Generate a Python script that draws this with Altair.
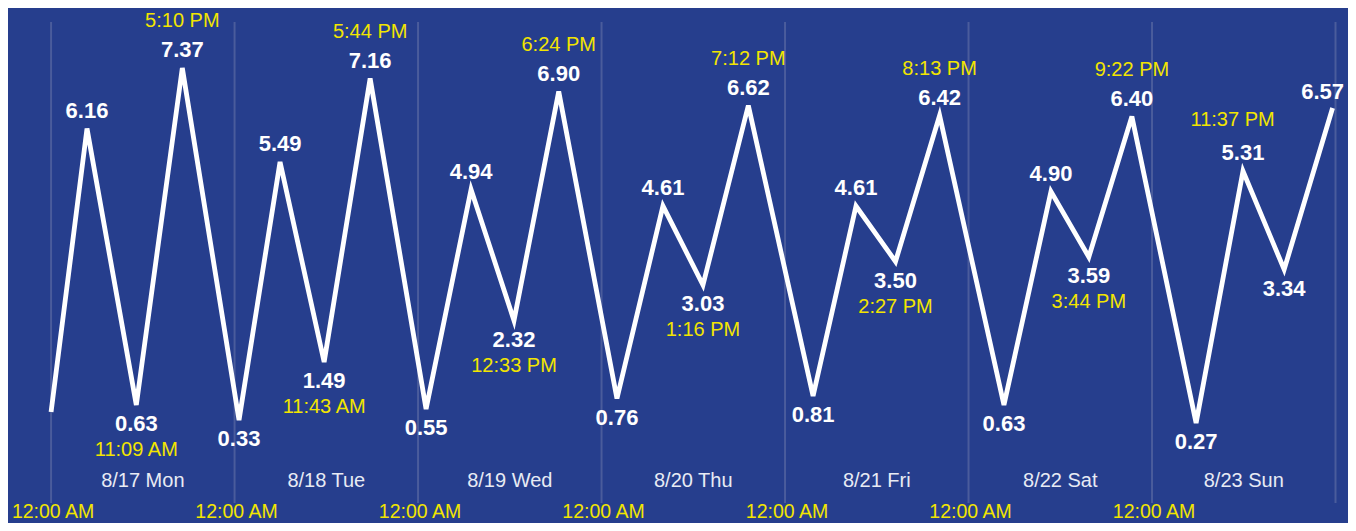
import altair as alt
import pandas as pd

# ---- data ----
times = ["2020-08-17T00:00", "2020-08-17T04:42", "2020-08-17T11:09", "2020-08-17T17:10",
         "2020-08-18T00:35", "2020-08-18T05:57", "2020-08-18T11:43", "2020-08-18T17:44",
         "2020-08-19T01:03", "2020-08-19T06:56", "2020-08-19T12:33", "2020-08-19T18:24",
         "2020-08-20T02:01", "2020-08-20T08:02", "2020-08-20T13:16", "2020-08-20T19:12",
         "2020-08-21T03:40", "2020-08-21T09:17", "2020-08-21T14:27", "2020-08-21T20:13",
         "2020-08-22T04:38", "2020-08-22T10:47", "2020-08-22T15:44", "2020-08-22T21:22",
         "2020-08-23T05:46", "2020-08-23T11:54", "2020-08-23T17:17", "2020-08-23T23:37"]
heights = [0.49, 6.16, 0.63, 7.37, 0.33, 5.49, 1.49, 7.16, 0.55, 4.94, 2.32, 6.90,
           0.76, 4.61, 3.03, 6.62, 0.81, 4.61, 3.50, 6.42, 0.63, 4.90, 3.59, 6.40,
           0.27, 5.31, 3.34, 6.57]
kinds = ["", "H", "L", "H", "L", "H", "L", "H", "L", "H", "L", "H", "L", "H",
         "L", "H", "L", "H", "L", "H", "L", "H", "L", "H", "L", "H", "L", "H"]
time_labels = ["", "", "11:09 AM", "5:10 PM", "", "", "11:43 AM", "5:44 PM",
               "", "", "12:33 PM", "6:24 PM", "", "", "1:16 PM", "7:12 PM",
               "", "", "2:27 PM", "8:13 PM", "", "", "3:44 PM", "9:22 PM",
               "", "", "", "11:37 PM"]

day_names = ["8/17 Mon", "8/18 Tue", "8/19 Wed", "8/20 Thu", "8/21 Fri", "8/22 Sat", "8/23 Sun"]
day_noons = ["2020-08-17T12:00", "2020-08-18T12:00", "2020-08-19T12:00", "2020-08-20T12:00",
             "2020-08-21T12:00", "2020-08-22T12:00", "2020-08-23T12:00"]
midnights = ["2020-08-17T00:00", "2020-08-18T00:00", "2020-08-19T00:00", "2020-08-20T00:00",
             "2020-08-21T00:00", "2020-08-22T00:00", "2020-08-23T00:00", "2020-08-24T00:00"]
midnight_labels = ["12:00 AM"] * 7 + [""]

BG = "#263e8d"
YELLOW = "#f2e500"
FONT = "Liberation Sans"

df = pd.DataFrame({
    "t": [s + ":00Z" for s in times],
    "h": heights,
    "kind": kinds,
    "tl": time_labels,
})
df["i"] = list(range(len(df)))
df["vl"] = [f"{v:.2f}" if k else "" for v, k in zip(heights, kinds)]
last = len(df) - 1

days_df = pd.DataFrame({"t": [s + ":00Z" for s in day_noons], "name": day_names})
mid_df = pd.DataFrame({"t": [s + ":00Z" for s in midnights], "lab": midnight_labels})

xscale = alt.Scale(type="utc", domain=[
    alt.DateTime(year=2020, month=8, date=16, hours=18, minutes=22, utc=True),
    alt.DateTime(year=2020, month=8, date=24, hours=1, minutes=38, utc=True)])
yscale = alt.Scale(domain=[-1.73, 8.57], nice=False, zero=False)

X = alt.X("t:T", scale=xscale, axis=None)
Y = alt.Y("h:Q", scale=yscale, axis=None)

grid = alt.Chart(mid_df).mark_rule(color="#4a5c9c", strokeWidth=2).encode(
    x=X, y=alt.value(14), y2=alt.value(495))

mid_text = alt.Chart(mid_df).transform_filter("datum.lab != ''").mark_text(
    font=FONT, fontSize=19.5, color=YELLOW, baseline="middle", align="center", dx=2).encode(
    x=X, y=alt.value(504), text="lab:N")

day_text = alt.Chart(days_df).mark_text(
    font=FONT, fontSize=20, color="#e8ebf4", baseline="middle", align="center").encode(
    x=X, y=alt.value(473), text="name:N")

line = alt.Chart(df).mark_line(color="white", strokeWidth=4.8, strokeJoin="miter",
                               strokeCap="butt").encode(x=X, y=Y, order="i:Q")

base = alt.Chart(df)
val_kw = dict(font=FONT, fontSize=22, fontWeight="bold", color="white",
              baseline="middle", align="center")
time_kw = dict(font=FONT, fontSize=20, color=YELLOW, baseline="middle", align="center")

val_h = base.transform_filter(f"datum.kind == 'H' && datum.i != {last}").mark_text(
    dy=-18, **val_kw).encode(x=X, y=Y, text="vl:N")
val_l = base.transform_filter("datum.kind == 'L'").mark_text(
    dy=19, **val_kw).encode(x=X, y=Y, text="vl:N")
val_last = base.transform_filter(f"datum.i == {last}").mark_text(
    dx=-10, dy=-16, **val_kw).encode(x=X, y=Y, text="vl:N")

time_h = base.transform_filter(
    f"datum.kind == 'H' && datum.tl != '' && datum.i != {last}").mark_text(
    dy=-47, **time_kw).encode(x=X, y=Y, text="tl:N")
time_l = base.transform_filter("datum.kind == 'L' && datum.tl != ''").mark_text(
    dy=45, **time_kw).encode(x=X, y=Y, text="tl:N")
time_last = base.transform_filter(f"datum.i == {last}").mark_text(
    dx=-100, dy=12, **time_kw).encode(x=X, y=Y, text="tl:N")

chart = alt.layer(
    grid, mid_text, day_text, line, val_h, val_l, val_last, time_h, time_l, time_last
).properties(
    width=1340, height=515,
    autosize=alt.AutoSizeParams(type="none"),
    padding=0,
    background=BG,
).configure_view(stroke=None)

chart.save("out.html", embed_options={"renderer": "svg", "actions": False})
